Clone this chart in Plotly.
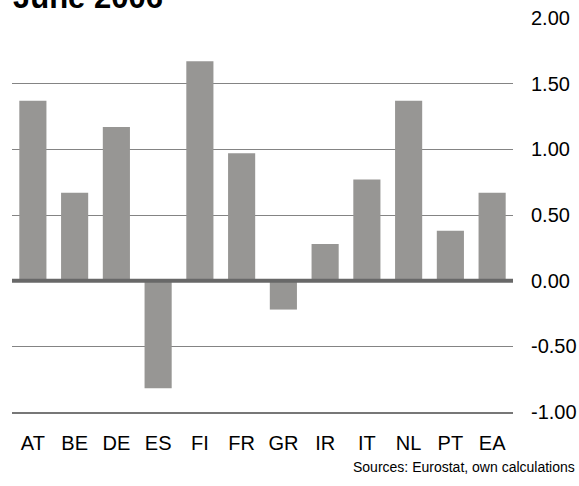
import plotly.graph_objects as go

# ── Data ─────────────────────────────────────────────────────────────────────
countries = ["AT", "BE", "DE", "ES", "FI", "FR", "GR", "IR", "IT", "NL", "PT", "EA"]
values = [1.37, 0.67, 1.17, -0.82, 1.67, 0.97, -0.22, 0.28, 0.77, 1.37, 0.38, 0.67]
y_ticks = [-1.0, -0.5, 0.0, 0.5, 1.0, 1.5, 2.0]

FONT = "Arial, Liberation Sans, sans-serif"
BAR = "#979694"
GRID = "#848484"

fig = go.Figure(go.Bar(
    x=countries, y=values,
    marker=dict(color=BAR, line=dict(width=0)),
    showlegend=False,
))

fig.update_layout(
    width=579, height=486,
    paper_bgcolor="white", plot_bgcolor="white",
    font=dict(family=FONT, size=20, color="black"),
    margin=dict(l=12, r=66, t=18, b=74, autoexpand=False),
    bargap=0.35,
    xaxis=dict(
        automargin=False,
        showgrid=False, zeroline=False,
        showline=True, linecolor="#777777", linewidth=2,
        ticks="", ticklabelstandoff=12,
        tickfont=dict(size=20),
    ),
    yaxis=dict(
        automargin=False,
        range=[-1, 2], tickvals=y_ticks,
        ticktext=[f"{v:.2f}" for v in y_ticks],   # plain hyphen, not unicode minus
        side="right",
        showgrid=True, gridcolor=GRID, gridwidth=1,
        zeroline=False, showline=False, ticks="",
        ticklabelstandoff=17,
        tickfont=dict(size=20),
    ),
    shapes=[dict(
        type="line", xref="x domain", x0=0, x1=1, yref="y", y0=0, y1=0,
        line=dict(color="#686868", width=4), layer="above",
    )],
    annotations=[
        dict(text="<b>June 2006</b>", xref="paper", yref="paper",
             x=0, y=1, xanchor="left", yanchor="bottom", yshift=1, xshift=-1,
             showarrow=False, font=dict(size=31, color="black")),
        dict(text="Sources: Eurostat, own calculations", xref="paper", yref="paper",
             x=1, y=-0.14, xanchor="right", yanchor="middle", xshift=64,
             showarrow=False, font=dict(size=14, color="black")),
    ],
)

fig.write_html("out.html", config={"displayModeBar": False},
               post_script="document.body.style.margin='0';")
